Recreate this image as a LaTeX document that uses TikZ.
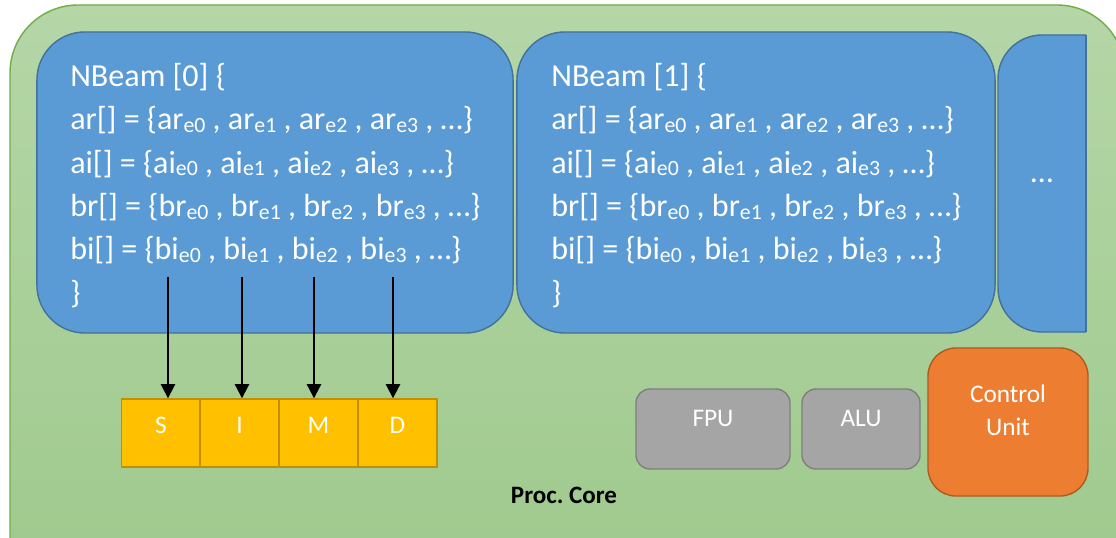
\documentclass[tikz,border=0pt]{standalone}
\usepackage{fontspec}
\setmainfont{Carlito}
\usetikzlibrary{arrows.meta}

\definecolor{coreTop}{HTML}{B5D6A7}
\definecolor{coreBot}{HTML}{9CC88A}
\definecolor{coreLine}{HTML}{70AD47}
\definecolor{beamFill}{HTML}{5B9BD5}
\definecolor{beamLine}{HTML}{41719C}
\definecolor{simdFill}{HTML}{FFC000}
\definecolor{simdLine}{HTML}{BF9000}
\definecolor{unitFill}{HTML}{A5A5A5}
\definecolor{unitLine}{HTML}{7F7F7F}
\definecolor{ctrlFill}{HTML}{ED7D31}
\definecolor{ctrlLine}{HTML}{AE5A21}

% indice e0, e1, ...
\newcommand\sbe[1]{\raisebox{-2pt}{\fontsize{15.5}{15.5}\selectfont e#1}}

\tikzset{
  beam/.style={draw=beamLine, fill=beamFill, line width=1pt, rounded corners=1.2cm},
  beamtext/.style={text=white, font=\fontsize{22.8}{30.8}\selectfont, align=left, inner sep=0pt},
  cell/.style={draw=simdLine, fill=simdFill, line width=1pt, minimum width=1.97cm, minimum height=1.7cm,
    inner sep=0pt, text=white, font=\fontsize{18}{18}\selectfont, text height=12.5pt, text depth=12.5pt},
  unit/.style={draw=unitLine, fill=unitFill, line width=1pt, rounded corners=0.35cm, minimum height=2cm,
    inner sep=0pt, text=white, font=\fontsize{18}{18}\selectfont, text height=12pt, text depth=15pt},
  ctrl/.style={draw=ctrlLine, fill=ctrlFill, line width=1pt, rounded corners=0.7cm, minimum width=4cm,
    minimum height=3.7cm, inner sep=0pt, text=white, align=center, font=\fontsize{18}{23.5}\selectfont,
    text height=30pt, text depth=10.5pt},
  feed/.style={-{Triangle[length=10pt,width=10pt]}, line width=1.4pt}
}

\begin{document}
\begin{tikzpicture}[x=0.025cm, y=-0.025cm]
\useasboundingbox (0,0) rectangle (1116,538);
\clip (0,0) rectangle (1116,538);

%coeur du processeur
\draw[coreLine, line width=1pt, top color=coreTop, bottom color=coreBot, rounded corners=1.7cm]
  (10,640) -- (10,5) -- (1125,5) -- (1125,640) -- cycle;

%faisceaux
\node[beam, minimum width=11.9cm, minimum height=7.525cm] (beam0) at (275,182.5) {};
\node[beam, minimum width=11.95cm, minimum height=7.525cm] (beam1) at (756,182.5) {};
\begin{scope}
\clip (990,20) rectangle (1086,340);
\draw[beam, rounded corners=1.1cm] (998,35) rectangle (1180,332);
\end{scope}
\draw[beamLine, line width=1pt] (1086,35) -- (1086,332);

\node[beamtext, anchor=north west] (txt0) at (70,63) {NBeam [0] \{\\
ar[] = \{ar\sbe{0} , ar\sbe{1} , ar\sbe{2} , ar\sbe{3} , …\}\\
ai[] = \{ai\sbe{0} , ai\sbe{1} , ai\sbe{2} , ai\sbe{3} , …\}\\
br[] = \{br\sbe{0} , br\sbe{1} , br\sbe{2} , br\sbe{3} , …\}\\
bi[] = \{bi\sbe{0} , bi\sbe{1} , bi\sbe{2} , bi\sbe{3} , …\}\\
\}};
\node[beamtext, anchor=north west] (txt1) at (551,63) {NBeam [1] \{\\
ar[] = \{ar\sbe{0} , ar\sbe{1} , ar\sbe{2} , ar\sbe{3} , …\}\\
ai[] = \{ai\sbe{0} , ai\sbe{1} , ai\sbe{2} , ai\sbe{3} , …\}\\
br[] = \{br\sbe{0} , br\sbe{1} , br\sbe{2} , br\sbe{3} , …\}\\
bi[] = \{bi\sbe{0} , bi\sbe{1} , bi\sbe{2} , bi\sbe{3} , …\}\\
\}};
\node[beamtext, anchor=base] (more) at (1042,183) {…};

%unite SIMD
\node[cell] (s) at (161,433) {S};
\node[cell] (i) at (239.5,433) {I};
\node[cell] (m) at (318.5,433) {M};
\node[cell] (d) at (397.5,433) {D};

\coordinate (f0) at (168,277);
\coordinate (f1) at (242,277);
\coordinate (f2) at (314,277);
\coordinate (f3) at (393,277);
\draw[feed] (f0) -- (f0 |- s.north);
\draw[feed] (f1) -- (f1 |- i.north);
\draw[feed] (f2) -- (f2 |- m.north);
\draw[feed] (f3) -- (f3 |- d.north);

\node[unit, minimum width=3.85cm] (fpu) at (713,429) {FPU};
\node[unit, minimum width=2.95cm] (alu) at (861,429) {ALU};
\node[ctrl] (cu) at (1008,422) {Control\\Unit};

\node[font=\fontsize{17.8}{17.8}\selectfont\bfseries, anchor=base] (core) at (564,503) {Proc.\ Core};
\end{tikzpicture}
\end{document}
